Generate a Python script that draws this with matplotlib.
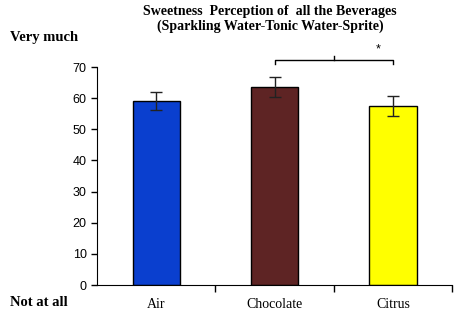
import numpy as np
from matplotlib import pyplot as plt

# values
categories = ["Air", "Chocolate", "Citrus"]
means = [59.1, 63.6, 57.5]
errors = [2.9, 3.2, 3.2]
colors = ["#0a3fcf", "#5e2424", "#ffff00"]
yticks = [0, 10, 20, 30, 40, 50, 60, 70]

serif = ["Liberation Serif", "DejaVu Serif"]
sans = ["Liberation Sans", "DejaVu Sans"]

fig = plt.figure(figsize=(4.54, 3.22), dpi=100)
ax = fig.add_axes([97 / 454, 37 / 322, 355 / 454, 218 / 322])

x = np.arange(len(categories))
ax.bar(x, means, width=0.4, color=colors, edgecolor="black", linewidth=1.0,
       yerr=errors, capsize=4, error_kw=dict(elinewidth=1.0, capthick=1.0, ecolor="#222222"))

ax.set_xlim(-0.5, 2.5)
ax.set_ylim(0, 70)
ax.set_yticks(yticks)
ax.set_yticklabels([str(v) for v in yticks], family=sans, fontsize=9)
ax.tick_params(axis="y", direction="out", length=4, width=1)

# ticks between categories, labels at the centres
ax.set_xticks([0.5, 1.5, 2.5])
ax.set_xticklabels([])
ax.set_xticks(x, minor=True)
ax.set_xticklabels(categories, minor=True, family=serif, fontsize=10)
ax.tick_params(axis="x", which="major", direction="out", length=5, width=1)
ax.tick_params(axis="x", which="minor", length=0, pad=9)

for s in ["top", "right"]:
    ax.spines[s].set_visible(False)

# significance bracket Chocolate-Citrus
yb = 72.3
ax.plot([1, 1, 2, 2], [yb - 1.2, yb, yb, yb - 1.2], color="black", lw=1, clip_on=False)
ax.plot([1.5, 1.5], [yb, yb + 1.2], color="black", lw=1, clip_on=False)
ax.text(1.88, yb + 1.5, "*", ha="center", va="bottom", family=sans, fontsize=9, clip_on=False)

fig.text(270 / 454, 1 - 19 / 322, "Sweetness  Perception of  all the Beverages\n(Sparkling Water-Tonic Water-Sprite)",
         ha="center", va="center", family=serif, fontweight="bold", fontsize=10, linespacing=1.15)
fig.text(10 / 454, 1 - 37 / 322, "Very much", ha="left", va="center",
         family=serif, fontweight="bold", fontsize=10.5)
fig.text(10 / 454, 1 - 302 / 322, "Not at all", ha="left", va="center",
         family=serif, fontweight="bold", fontsize=10.5)

plt.savefig("out.png", dpi=100)
